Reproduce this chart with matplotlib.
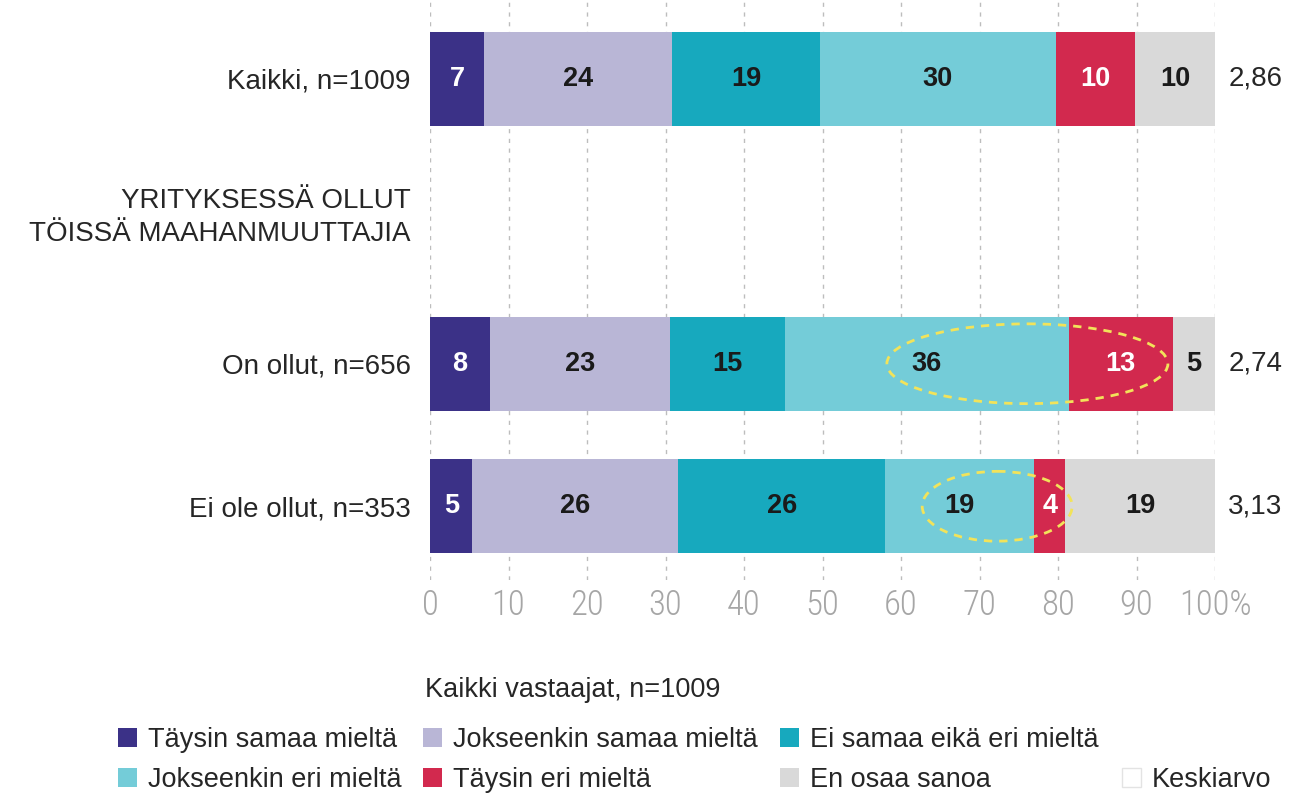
import matplotlib
matplotlib.use("Agg")
import matplotlib.pyplot as plt
from matplotlib.patches import Ellipse, Patch
import numpy as np

# ---- data ----
categories = ["Kaikki, n=1009", "YRITYKSESSÄ OLLUT\nTÖISSÄ MAAHANMUUTTAJIA", "On ollut, n=656", "Ei ole ollut, n=353"]
series_names = ["Täysin samaa mieltä", "Jokseenkin samaa mieltä", "Ei samaa eikä eri mieltä",
                "Jokseenkin eri mieltä", "Täysin eri mieltä", "En osaa sanoa"]
# values per series for rows Kaikki, (heading - none), On ollut, Ei ole ollut
taysin_samaa = [6.9, None, 7.6, 5.4]
jokseenkin_samaa = [23.9, None, 23.0, 26.2]
ei_samaa_eika_eri = [18.9, None, 14.6, 26.4]
jokseenkin_eri = [30.0, None, 36.2, 19.0]
taysin_eri = [10.1, None, 13.2, 3.9]
en_osaa = [10.2, None, 5.4, 19.1]
keskiarvo = ["2,86", None, "2,74", "3,13"]
tick_values = [0, 10, 20, 30, 40, 50, 60, 70, 80, 90, 100]
tick_labels = ["0", "10", "20", "30", "40", "50", "60", "70", "80", "90", "100%"]
legend_title = "Kaikki vastaajat, n=1009"
mean_label = "Keskiarvo"
# highlighted areas: (row index, x start, x end)
highlights = [(2, 58.2, 94.0), (3, 62.7, 81.8)]

colors = ["#3B3187", "#B9B6D6", "#17A9BE", "#74CCD8", "#D2294E", "#D9D9D9"]
label_colors = ["white", "#1a1a1a", "#1a1a1a", "#1a1a1a", "white", "#1a1a1a"]

FONT = ["Liberation Sans", "DejaVu Sans"]
NARROW = ["Roboto Condensed", "Liberation Sans", "DejaVu Sans"]
plt.rcParams["font.family"] = FONT

fig = plt.figure(figsize=(12.97, 7.96), dpi=100)
ax = fig.add_axes([430 / 1297, 1 - 580 / 796, 785 / 1297, 578 / 796])

all_series = [taysin_samaa, jokseenkin_samaa, ei_samaa_eika_eri, jokseenkin_eri, taysin_eri, en_osaa]
ypos = np.array([0, 0.93, 2, 3])
bar_h = 0.66

for i_row in range(len(categories)):
    left = 0.0
    for s_idx, ser in enumerate(all_series):
        v = ser[i_row]
        if v is None:
            continue
        ax.barh(ypos[i_row], v, left=left, height=bar_h, color=colors[s_idx], linewidth=0, zorder=2)
        ax.text(left + v / 2, ypos[i_row], f"{int(round(v))}", ha="center", va="center",
                fontsize=19.5, fontweight="bold", color=label_colors[s_idx], zorder=3)
        left += v
    if keskiarvo[i_row] is not None:
        ax.annotate(keskiarvo[i_row], xy=(1, ypos[i_row]), xycoords=("axes fraction", "data"),
                    xytext=(9.5, 0), textcoords="offset points", ha="left", va="center",
                    fontsize=20, color="#262626")

for row, x0, x1 in highlights:
    e = Ellipse(((x0 + x1) / 2, ypos[row]), x1 - x0, 0.56 if row == 2 else 0.49,
                fill=False, edgecolor="#F2E35A", linestyle=(0, (3, 2.5)), linewidth=2, zorder=4)
    ax.add_patch(e)

ax.set_xlim(0, 100)
ax.set_ylim(3 + 74 / 143, -77 / 143)
ax.set_yticks(ypos)
ax.set_yticklabels(categories, fontsize=20, color="#262626", linespacing=1.35)
ax.tick_params(axis="y", length=0, pad=14)
ax.set_xticks(tick_values)
ax.set_xticklabels(tick_labels, fontsize=25, color="#A6A6A6", family=NARROW, fontweight=300)
ax.tick_params(axis="x", length=0, pad=6)
for sp in ax.spines.values():
    sp.set_visible(False)
ax.xaxis.grid(True, linestyle=(0, (3, 4)), color="#BDBDBD", linewidth=1, zorder=0)
ax.set_axisbelow(True)

# legend
fig.text(425 / 1297, 1 - 690 / 796, legend_title, fontsize=19.5, color="#262626", ha="left", va="center")
handles = [Patch(facecolor=c, edgecolor="none") for c in colors]
mean_handle = Patch(facecolor="white", edgecolor="#E3E3E3", linewidth=1)
blank_handle = Patch(facecolor="none", edgecolor="none")
columns = [
    ([handles[0], handles[3]], [series_names[0], series_names[3]], 118),
    ([handles[1], handles[4]], [series_names[1], series_names[4]], 423),
    ([handles[2], handles[5]], [series_names[2], series_names[5]], 780),
    ([blank_handle, mean_handle], ["", mean_label], 1122),
]
for hs, ls, xpx in columns:
    leg = fig.legend(hs, ls, ncol=1, loc="upper left", bbox_to_anchor=(xpx / 1297, 1 - 727 / 796),
                     frameon=False, fontsize=19.5, handlelength=0.7, handleheight=0.7,
                     handletextpad=0.4, labelspacing=0.5, borderaxespad=0, borderpad=0)
    for t in leg.get_texts():
        t.set_color("#262626")

fig.savefig("out.png", dpi=100)
